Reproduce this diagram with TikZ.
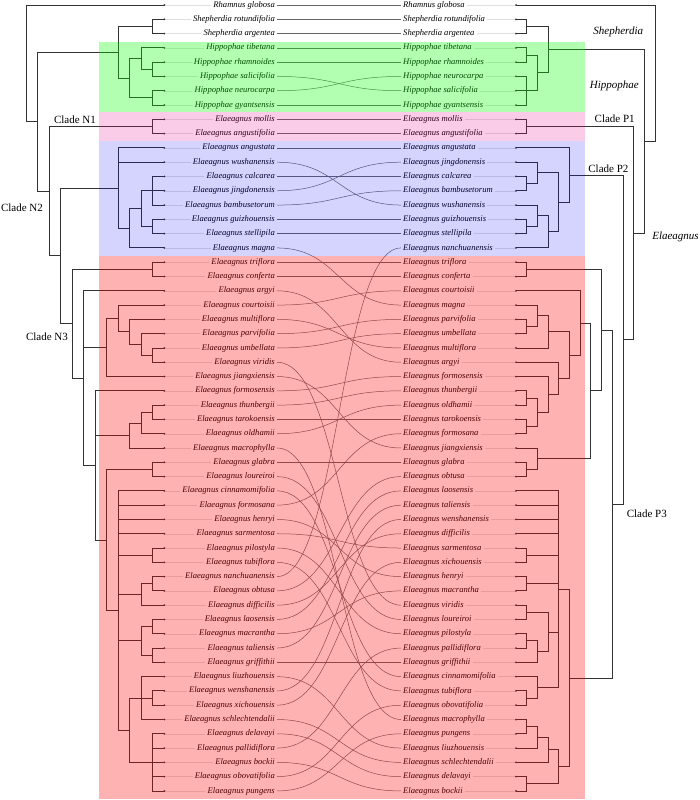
\documentclass[tikz,border=0pt]{standalone}
\usepackage{fontspec}
\setmainfont{Liberation Serif}
\usetikzlibrary{calc}

% internal node of a tree: name, x, first child, last child
\newcommand{\mkclade}[4]{%
  \path let \p1=($(#3)!.5!(#4)$) in (#2pt,\y1) coordinate (#1);
  \draw[tree] (#1) |- (#3) (#1) |- (#4);}

\begin{document}
\begin{tikzpicture}[x=1pt,y=-1pt,
  tree/.style={line width=0.9pt,black!80},
  lead/.style={line width=0.4pt,black!12},
  link/.style={line width=0.5pt,black!60},
  taxon/.style={font=\fontsize{8.6}{10}\selectfont\itshape,inner xsep=2pt,inner ysep=0pt},
  lbl/.style={font=\fontsize{11}{13}\selectfont,inner sep=0pt}]
\useasboundingbox (0,0) rectangle (700,800);

% left taxa
\foreach \tx [count=\i from 0] in {Rhamnus globosa, Shepherdia rotundifolia, Shepherdia argentea,
  Hippophae tibetana, Hippophae rhamnoides, Hippophae salicifolia, Hippophae neurocarpa,
  Hippophae gyantsensis, Elaeagnus mollis, Elaeagnus angustifolia, Elaeagnus angustata,
  Elaeagnus wushanensis, Elaeagnus calcarea, Elaeagnus jingdonensis, Elaeagnus bambusetorum,
  Elaeagnus guizhouensis, Elaeagnus stellipila, Elaeagnus magna, Elaeagnus triflora,
  Elaeagnus conferta, Elaeagnus argyi, Elaeagnus courtoisii, Elaeagnus multiflora,
  Elaeagnus parvifolia, Elaeagnus umbellata, Elaeagnus viridis, Elaeagnus jiangxiensis,
  Elaeagnus formosensis, Elaeagnus thunbergii, Elaeagnus tarokoensis, Elaeagnus oldhamii,
  Elaeagnus macrophylla, Elaeagnus glabra, Elaeagnus loureiroi, Elaeagnus cinnamomifolia,
  Elaeagnus formosana, Elaeagnus henryi, Elaeagnus sarmentosa, Elaeagnus pilostyla,
  Elaeagnus tubiflora, Elaeagnus nanchuanensis, Elaeagnus obtusa, Elaeagnus difficilis,
  Elaeagnus laosensis, Elaeagnus macrantha, Elaeagnus taliensis, Elaeagnus griffithii,
  Elaeagnus liuzhouensis, Elaeagnus wenshanensis, Elaeagnus xichouensis,
  Elaeagnus schlechtendalii, Elaeagnus delavayi, Elaeagnus pallidiflora, Elaeagnus bockii,
  Elaeagnus obovatifolia, Elaeagnus pungens}
{
\coordinate (lt\i) at (164.3,5+14.29*\i);
\node[taxon,anchor=east] (ln\i) at (277,5+14.29*\i) {\tx};
\draw[lead] (lt\i) -- (ln\i.west);
}

% right taxa
\foreach \tx [count=\i from 0] in {Rhamnus globosa, Shepherdia rotundifolia, Shepherdia argentea,
  Hippophae tibetana, Hippophae rhamnoides, Hippophae neurocarpa, Hippophae salicifolia,
  Hippophae gyantsensis, Elaeagnus mollis, Elaeagnus angustifolia, Elaeagnus angustata,
  Elaeagnus jingdonensis, Elaeagnus calcarea, Elaeagnus bambusetorum, Elaeagnus wushanensis,
  Elaeagnus guizhouensis, Elaeagnus stellipila, Elaeagnus nanchuanensis, Elaeagnus triflora,
  Elaeagnus conferta, Elaeagnus courtoisii, Elaeagnus magna, Elaeagnus parvifolia,
  Elaeagnus umbellata, Elaeagnus multiflora, Elaeagnus argyi, Elaeagnus formosensis,
  Elaeagnus thunbergii, Elaeagnus oldhamii, Elaeagnus tarokoensis, Elaeagnus formosana,
  Elaeagnus jiangxiensis, Elaeagnus glabra, Elaeagnus obtusa, Elaeagnus laosensis,
  Elaeagnus taliensis, Elaeagnus wenshanensis, Elaeagnus difficilis, Elaeagnus sarmentosa,
  Elaeagnus xichouensis, Elaeagnus henryi, Elaeagnus macrantha, Elaeagnus viridis,
  Elaeagnus loureiroi, Elaeagnus pilostyla, Elaeagnus pallidiflora, Elaeagnus griffithii,
  Elaeagnus cinnamomifolia, Elaeagnus tubiflora, Elaeagnus obovatifolia,
  Elaeagnus macrophylla, Elaeagnus pungens, Elaeagnus liuzhouensis,
  Elaeagnus schlechtendalii, Elaeagnus delavayi, Elaeagnus bockii}
{
\coordinate (rt\i) at (516,5+14.29*\i);
\node[taxon,anchor=west] (rn\i) at (401,5+14.29*\i) {\tx};
\draw[lead] (rn\i.east) -- (rt\i);
}

% left tree
\mkclade{a1}{152.8}{lt1}{lt2}
\mkclade{a2}{152.8}{lt4}{lt5}
\mkclade{a3}{141.3}{lt3}{a2}
\mkclade{a4}{152.8}{lt6}{lt7}
\mkclade{a5}{129.8}{a3}{a4}
\mkclade{a6}{118.3}{a1}{a5}
\mkclade{a7}{152.8}{lt8}{lt9}
\mkclade{a8}{152.8}{lt12}{lt14}
\draw[tree] (a8) |- (lt13);
\mkclade{a9}{152.8}{lt15}{lt16}
\mkclade{a10}{141.3}{a8}{a9}
\mkclade{a11}{129.8}{a10}{lt17}
\mkclade{a12}{118.3}{lt10}{a11}
\draw[tree] (a12) |- (lt11);
\mkclade{a13}{152.8}{lt18}{lt19}
\mkclade{a14}{152.8}{lt24}{lt25}
\mkclade{a15}{141.3}{lt23}{a14}
\mkclade{a16}{129.8}{lt22}{a15}
\mkclade{a17}{118.3}{lt21}{a16}
\mkclade{a18}{106.8}{a17}{lt26}
\mkclade{a19}{152.8}{lt28}{lt29}
\mkclade{a20}{141.3}{a19}{lt30}
\mkclade{a21}{129.8}{a20}{lt31}
\mkclade{a22}{152.8}{lt32}{lt33}
\mkclade{a23}{152.8}{lt38}{lt39}
\mkclade{a24}{152.8}{lt40}{lt41}
\mkclade{a25}{141.3}{a24}{lt42}
\mkclade{a26}{152.8}{lt43}{lt44}
\mkclade{a27}{152.8}{lt45}{lt46}
\mkclade{a28}{141.3}{a26}{a27}
\mkclade{a29}{152.8}{lt48}{lt49}
\mkclade{a30}{141.3}{lt47}{lt50}
\draw[tree] (a30) |- (a29);
\mkclade{a31}{152.8}{lt51}{lt55}
\foreach \c in {lt52,lt53,lt54}
\draw[tree] (a31) |- (\c);
\mkclade{a32}{129.8}{a30}{a31}
\mkclade{a33}{118.3}{lt34}{a32}
\foreach \c in {lt35,lt36,lt37,a23,a25,a28}
\draw[tree] (a33) |- (\c);
\mkclade{a34}{106.8}{a22}{a33}
\mkclade{a35}{95.3}{lt27}{a34}
\draw[tree] (a35) |- (a21);
\mkclade{a36}{83.8}{lt20}{a35}
\draw[tree] (a36) |- (a18);
\mkclade{a37}{72.3}{a13}{a36}
\mkclade{a38}{60.8}{a12}{a37}
\mkclade{a39}{49.3}{a7}{a38}
\mkclade{a40}{37.8}{a6}{a39}
\mkclade{a41}{26.3}{lt0}{a40}

% right tree
\mkclade{b1}{526.7}{rt1}{rt2}
\mkclade{b2}{526.7}{rt3}{rt4}
\mkclade{b3}{526.7}{rt5}{rt7}
\draw[tree] (b3) |- (rt6);
\mkclade{b4}{537.4}{b2}{b3}
\mkclade{b5}{548.1}{b1}{b4}
\mkclade{b6}{526.7}{rt8}{rt9}
\mkclade{b7}{526.7}{rt12}{rt13}
\mkclade{b8}{537.4}{rt11}{b7}
\mkclade{b9}{526.7}{rt15}{rt16}
\mkclade{b10}{537.4}{rt14}{b9}
\mkclade{b11}{548.1}{b10}{rt17}
\mkclade{b12}{558.8}{b8}{b11}
\mkclade{b13}{569.5}{rt10}{b12}
\mkclade{b14}{526.7}{rt18}{rt19}
\mkclade{b15}{526.7}{rt22}{rt23}
\mkclade{b16}{537.4}{rt21}{b15}
\mkclade{b17}{548.1}{b16}{rt24}
\mkclade{b18}{526.7}{rt27}{rt28}
\mkclade{b19}{526.7}{rt29}{rt30}
\mkclade{b20}{537.4}{b18}{b19}
\mkclade{b21}{548.1}{rt26}{b20}
\mkclade{b22}{558.8}{rt25}{b21}
\mkclade{b23}{569.5}{b17}{b22}
\mkclade{b24}{580.2}{rt20}{b23}
\mkclade{b25}{526.7}{rt32}{rt33}
\mkclade{b26}{537.4}{rt31}{b25}
\mkclade{b27}{590.9}{b24}{b26}
\mkclade{b28}{601.6}{b14}{b27}
\mkclade{b29}{526.7}{rt38}{rt39}
\mkclade{b30}{526.7}{rt40}{rt41}
\mkclade{b31}{526.7}{rt42}{rt43}
\mkclade{b32}{526.7}{rt44}{rt45}
\mkclade{b33}{537.4}{b32}{rt46}
\mkclade{b34}{548.1}{b31}{b33}
\mkclade{b35}{526.7}{rt48}{rt49}
\mkclade{b36}{537.4}{rt47}{b35}
\mkclade{b37}{558.8}{rt34}{b36}
\foreach \c in {rt35,rt36,rt37,b29,b30,b34}
\draw[tree] (b37) |- (\c);
\mkclade{b38}{526.7}{rt50}{rt51}
\mkclade{b39}{537.4}{b38}{rt52}
\mkclade{b40}{548.1}{b39}{rt53}
\mkclade{b41}{526.7}{rt54}{rt55}
\mkclade{b42}{558.8}{b40}{b41}
\mkclade{b43}{569.5}{b37}{b42}
\mkclade{b44}{612.3}{b28}{b43}
\mkclade{b45}{623}{b13}{b44}
\mkclade{b46}{633.7}{b6}{b45}
\mkclade{b47}{644.4}{b5}{b46}
\mkclade{b48}{655.1}{rt0}{b47}

% tip dots
\foreach \i in {0,...,55}
\fill[black!80] (lt\i) circle (1pt) (rt\i) circle (1pt);

% links between the two lists
\foreach \a/\b in {0/0,1/1,2/2,3/3,4/4,5/6,6/5,7/7,8/8,9/9,10/10,11/14,12/12,13/11,
  14/13,15/15,16/16,17/21,18/18,19/19,20/25,21/20,22/24,23/22,24/23,25/42,26/31,
  27/26,28/27,29/29,30/28,31/50,32/32,33/43,34/47,35/30,36/40,37/38,38/44,39/48,
  40/17,41/33,42/37,43/34,44/41,45/35,46/46,47/52,48/36,49/39,50/53,51/54,52/45,
  53/55,54/49,55/51}
\draw[link] (ln\a.east) .. controls +(62,0) and +(-62,0) .. (rn\b.west);

% shaded groups
\fill[green,fill opacity=0.3] (99,42) rectangle (585,112.2);
\fill[magenta,fill opacity=0.2] (99,112.2) rectangle (585,140.8);
\fill[blue,fill opacity=0.17] (99,140.8) rectangle (585,255.9);
\fill[red,fill opacity=0.3] (99,255.9) rectangle (585,799);

% clade labels
\node[lbl] (cn1) at (75,120) {Clade N1};
\node[lbl] (cn2) at (22,208) {Clade N2};
\node[lbl] (cn3) at (47,337) {Clade N3};
\node[lbl,font=\fontsize{11}{13}\selectfont\itshape] (shep) at (618.3,32.3) {Shepherdia};
\node[lbl,font=\fontsize{11}{13}\selectfont\itshape] (hipp) at (614.3,86) {Hippophae};
\node[lbl] (cp1) at (614.7,119) {Clade P1};
\node[lbl] (cp2) at (608.4,169) {Clade P2};
\node[lbl,font=\fontsize{11}{13}\selectfont\itshape] (elae) at (675.5,236.7) {Elaeagnus};
\node[lbl] (cp3) at (646.8,513.7) {Clade P3};
\end{tikzpicture}
\end{document}
